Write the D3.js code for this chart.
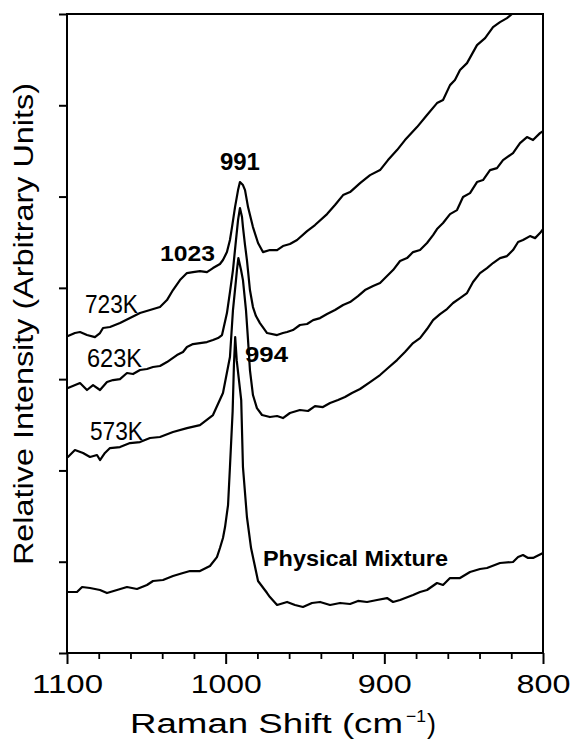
<!DOCTYPE html>
<html>
<head>
<meta charset="utf-8">
<script src="https://cdn.jsdelivr.net/npm/d3@7"></script>
<style>
  html, body { margin: 0; padding: 0; background: #fff; }
  svg { display: block; font-family: "Liberation Sans", Arial, Helvetica, sans-serif; }
</style>
</head>
<body>
<svg id="chart" width="571" height="743"></svg>
<script>
// Raman spectra: [wavenumber (cm-1), relative intensity]
const physicalMixture = [
  [1099.4, 6.68], [1093.7, 6.68], [1090.5, 7.23], [1085.5, 7.12], [1079.2, 6.90],
  [1074.8, 6.57], [1068.5, 6.90], [1062.2, 7.23], [1055.9, 7.01], [1049.6, 7.45],
  [1045.8, 7.89], [1039.5, 8.00], [1033.2, 8.43], [1026.9, 8.76], [1022.5, 8.98],
  [1016.2, 8.98], [1009.9, 9.53], [1005.5, 10.51], [1003.6, 11.50], [1001.7, 12.60],
  [1000.4, 13.80], [998.5, 16.21], [997.3, 20.37], [995.6, 26.5], [994.8, 31.5],
  [994.0, 34.6], [993.0, 32.0], [990.2, 27.7], [989.1, 20.37], [986.6, 14.90],
  [984.0, 11.50], [979.6, 7.89], [973.9, 6.57], [972.1, 6.13], [967.6, 5.26],
  [961.3, 5.59], [956.3, 5.26], [951.3, 5.04], [945.6, 5.48], [940.5, 5.59],
  [934.2, 5.26], [927.9, 5.48], [921.6, 5.37], [916.6, 5.70], [910.9, 5.59],
  [904.6, 5.81], [898.3, 6.02], [894.5, 5.59], [890.1, 5.81], [881.9, 6.35],
  [877.5, 6.68], [873.1, 6.90], [866.8, 7.67], [863.0, 7.45], [858.6, 8.21],
  [852.3, 8.21], [846.0, 8.87], [839.7, 9.20], [835.3, 9.31], [827.1, 9.86],
  [818.9, 9.97], [815.7, 10.51], [812.6, 10.73], [809.4, 10.41], [806.3, 10.41],
  [800.0, 10.95]
];

const sample573K = [
  [1099.4, 21.47], [1095.0, 22.23], [1089.9, 21.91], [1085.5, 21.47], [1081.1, 21.69],
  [1079.2, 21.14], [1076.1, 21.91], [1072.9, 22.45], [1066.6, 22.56], [1060.3, 23.00],
  [1054.0, 23.11], [1047.7, 23.55], [1041.4, 23.66], [1033.2, 24.21], [1024.4, 24.64],
  [1016.2, 24.97], [1008.0, 26.07], [1001.7, 28.48], [997.3, 32.42], [995.4, 37.57],
  [993.5, 40.85], [992.9, 41.95], [992.0, 43.26], [990.3, 41.95], [989.1, 40.85],
  [987.2, 37.57], [985.9, 34.28], [984.7, 31.00], [982.8, 28.26], [980.3, 26.83],
  [977.1, 26.07], [972.1, 25.85], [967.6, 25.96], [963.9, 25.74], [959.5, 26.29],
  [953.2, 26.62], [948.1, 26.51], [943.7, 27.05], [938.7, 26.94], [934.2, 27.38],
  [929.2, 27.71], [924.8, 28.04], [920.4, 28.48], [915.3, 28.92], [909.0, 29.68],
  [902.7, 30.45], [897.7, 31.22], [892.0, 32.09], [887.0, 32.97], [881.9, 33.95],
  [877.5, 34.50], [873.1, 35.49], [869.3, 36.47], [864.9, 37.13], [860.5, 37.68],
  [856.7, 38.34], [852.3, 38.88], [847.9, 39.43], [844.1, 40.64], [839.7, 41.62],
  [835.3, 42.17], [831.5, 42.72], [827.1, 43.26], [822.7, 43.48], [818.9, 44.14],
  [815.7, 45.02], [812.6, 45.24], [808.2, 45.67], [805.0, 45.45], [801.9, 46.00],
  [800.0, 46.44]
];

const sample623K = [
  [1099.4, 29.03], [1091.8, 29.57], [1087.4, 28.81], [1083.6, 29.35], [1079.2, 28.81],
  [1074.8, 29.68], [1071.0, 29.90], [1066.6, 30.01], [1062.2, 30.67], [1058.4, 30.56],
  [1054.0, 31.00], [1049.6, 31.11], [1045.8, 31.33], [1041.4, 31.44], [1037.0, 31.87],
  [1030.7, 32.64], [1026.9, 32.97], [1024.4, 33.52], [1020.6, 33.84], [1016.2, 33.95],
  [1011.8, 34.06], [1008.0, 34.28], [1004.8, 34.50], [1002.3, 34.83], [999.2, 37.24],
  [997.3, 39.54], [995.4, 41.95], [993.5, 45.24], [992.2, 47.43], [991.0, 48.74],
  [989.7, 47.76], [989.1, 46.66], [987.8, 44.69], [986.6, 43.05], [984.7, 39.76],
  [982.8, 37.90], [980.9, 36.91], [978.4, 36.14], [973.9, 35.05], [967.6, 34.83],
  [963.9, 35.05], [961.3, 35.16], [957.6, 35.38], [953.2, 35.93], [948.7, 36.04],
  [944.9, 36.47], [940.5, 36.69], [936.1, 37.13], [931.1, 37.57], [926.0, 38.12],
  [921.6, 38.44], [916.6, 39.10], [912.2, 39.76], [907.1, 40.20], [902.7, 40.53],
  [898.3, 41.29], [894.5, 41.95], [890.1, 42.94], [885.7, 43.26], [881.9, 43.92],
  [877.5, 44.14], [873.1, 44.91], [869.3, 45.78], [866.8, 46.44], [863.0, 47.10],
  [858.6, 48.08], [854.2, 48.52], [850.4, 49.95], [846.0, 50.38], [841.6, 51.59],
  [837.8, 51.81], [833.4, 52.90], [829.0, 53.12], [825.2, 54.00], [818.9, 54.76],
  [814.5, 55.86], [810.1, 56.52], [806.3, 56.19], [801.9, 56.95], [800.0, 57.17]
];

const sample723K = [
  [1099.4, 34.72], [1095.0, 35.05], [1091.8, 35.16], [1087.4, 34.83], [1082.4, 34.61],
  [1079.2, 35.05], [1077.3, 35.60], [1072.9, 35.71], [1066.6, 36.14], [1060.3, 36.69],
  [1054.0, 37.24], [1047.7, 37.57], [1041.4, 37.90], [1037.0, 38.66], [1033.2, 39.76],
  [1028.8, 40.85], [1024.4, 41.62], [1020.6, 41.73], [1016.2, 41.84], [1011.8, 41.73],
  [1008.0, 42.17], [1003.6, 42.61], [1001.7, 43.05], [999.2, 43.92], [997.3, 45.24],
  [996.0, 46.66], [994.1, 48.85], [992.2, 50.71], [991.0, 51.59], [989.1, 51.26],
  [987.8, 50.71], [985.9, 48.85], [982.8, 46.66], [979.6, 44.91], [976.5, 43.92],
  [972.1, 44.14], [967.6, 44.14], [963.9, 44.58], [959.5, 44.80], [955.0, 45.24],
  [948.7, 46.22], [943.7, 46.88], [936.1, 48.08], [931.1, 49.07], [926.0, 50.16],
  [921.6, 50.49], [915.3, 51.48], [909.0, 52.35], [902.7, 52.90], [897.7, 54.00],
  [892.0, 55.09], [887.0, 56.19], [879.4, 57.61], [873.1, 58.93], [866.8, 60.24],
  [863.0, 60.57], [858.6, 62.21], [855.5, 62.76], [852.3, 63.86], [847.9, 64.62],
  [841.6, 66.59], [836.5, 67.36], [831.5, 68.57], [827.1, 69.11], [822.7, 69.55],
  [818.9, 70.10]
];

const series = [physicalMixture, sample573K, sample623K, sample723K];

// Axis ticks
const xMajorTicks = [1100, 1000, 900, 800];
const xTickLabels = ["1100", "1000", "900", "800"];
const xMinorTicks = [1080, 1060, 1040, 1020, 980, 960, 940, 920, 880, 860, 840, 820];
const yTicks = [0, 10, 20, 30, 40, 50, 60, 70];

// Annotation labels, placed in data coordinates (wavenumber, intensity)
const peakLabels = [
  { text: "991", w: 1003.6, v: 52.9, len: 40, size: 23 },
  { text: "1023", w: 1041.4, v: 42.9, len: 55, size: 22 },
  { text: "994", w: 987.8, v: 31.9, len: 43, size: 22 },
  { text: "Physical Mixture", w: 976.5, v: 9.5, len: 185, size: 22 }
];
const tempLabels = [
  { text: "723K", w: 1088.7, v: 37.2, len: 53 },
  { text: "623K", w: 1087.4, v: 31.3, len: 55 },
  { text: "573K", w: 1085.5, v: 23.3, len: 53 }
];

const svg = d3.select("#chart");
const plotLeft = 67, plotRight = 543, plotTop = 14, plotBottom = 653;

const x = d3.scaleLinear().domain([1100, 800]).range([plotLeft, plotRight]);
const y = d3.scaleLinear().domain([0, 70]).range([plotBottom, plotTop]);

svg.append("defs").append("clipPath").attr("id", "plot-clip")
  .append("rect").attr("x", plotLeft).attr("y", plotTop)
  .attr("width", plotRight - plotLeft).attr("height", plotBottom - plotTop);

// Spectra
const line = d3.line().x(d => x(d[0])).y(d => y(d[1])).curve(d3.curveLinear);
svg.append("g").attr("clip-path", "url(#plot-clip)")
  .selectAll("path").data(series).join("path")
  .attr("d", line)
  .attr("fill", "none")
  .attr("stroke", "#000")
  .attr("stroke-width", 2.2)
  .attr("stroke-linejoin", "round")
  .attr("stroke-linecap", "round");

// Frame
svg.append("rect")
  .attr("x", plotLeft).attr("y", plotTop)
  .attr("width", plotRight - plotLeft).attr("height", plotBottom - plotTop)
  .attr("fill", "none").attr("stroke", "#000").attr("stroke-width", 2);

// Minor x ticks
svg.append("g").attr("transform", `translate(0,${plotBottom})`)
  .call(d3.axisBottom(x).tickValues(xMinorTicks).tickSize(6).tickSizeOuter(0).tickFormat(""))
  .call(g => g.select(".domain").remove())
  .call(g => g.selectAll("line").attr("stroke-width", 1.8));

// Major x ticks with labels
const xAxis = svg.append("g").attr("transform", `translate(0,${plotBottom})`)
  .call(d3.axisBottom(x).tickValues(xMajorTicks).tickSize(11).tickSizeOuter(0)
    .tickFormat((d, i) => xTickLabels[i]))
  .call(g => g.select(".domain").remove());
xAxis.selectAll("line").attr("stroke-width", 2);
xAxis.selectAll("text")
  .attr("y", 40).attr("dy", null)
  .attr("font-size", 25)
  .attr("fill", "#000")
  .attr("font-family", "'Liberation Sans', Arial, sans-serif")
  .attr("textLength", d => d >= 1000 ? 71 : 54)
  .attr("lengthAdjust", "spacingAndGlyphs");

// Y ticks (no labels)
svg.append("g").attr("transform", `translate(${plotLeft},0)`)
  .call(d3.axisLeft(y).tickValues(yTicks).tickSize(8).tickSizeOuter(0).tickFormat(""))
  .call(g => g.select(".domain").remove())
  .call(g => g.selectAll("line").attr("stroke-width", 2));

// Axis titles
const xTitle = svg.append("g");
xTitle.append("text")
  .attr("x", 130).attr("y", 733)
  .attr("font-size", 27)
  .attr("textLength", 273).attr("lengthAdjust", "spacingAndGlyphs")
  .text("Raman Shift (cm");
xTitle.append("text")
  .attr("x", 406).attr("y", 722)
  .attr("font-size", 17)
  .attr("textLength", 20).attr("lengthAdjust", "spacingAndGlyphs")
  .text("\u22121");
xTitle.append("text")
  .attr("x", 427).attr("y", 733)
  .attr("font-size", 27)
  .text(")");

svg.append("text")
  .attr("transform", "translate(33,324) rotate(-90)")
  .attr("text-anchor", "middle")
  .attr("font-size", 27)
  .attr("textLength", 482).attr("lengthAdjust", "spacingAndGlyphs")
  .text("Relative Intensity (Arbitrary Units)");

// Peak and sample labels
svg.append("g").selectAll("text").data(peakLabels).join("text")
  .attr("x", d => x(d.w)).attr("y", d => y(d.v))
  .attr("font-size", d => d.size)
  .attr("font-weight", "bold")
  .attr("textLength", d => d.len).attr("lengthAdjust", "spacingAndGlyphs")
  .text(d => d.text);

svg.append("g").selectAll("text").data(tempLabels).join("text")
  .attr("x", d => x(d.w)).attr("y", d => y(d.v))
  .attr("font-size", 25)
  .attr("textLength", d => d.len).attr("lengthAdjust", "spacingAndGlyphs")
  .text(d => d.text);
</script>
</body>
</html>
